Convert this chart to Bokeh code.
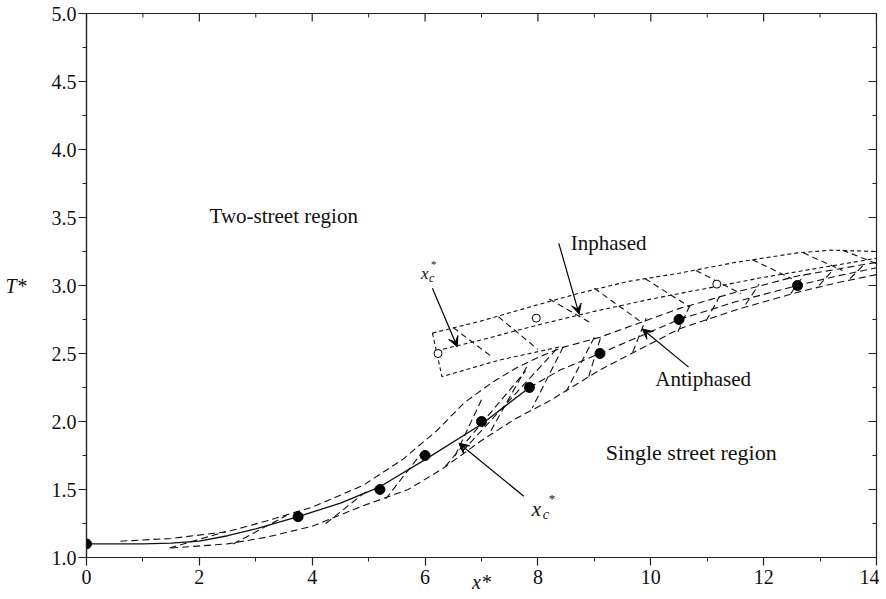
from bokeh.plotting import figure
from bokeh.models import Range1d, LinearAxis, FixedTicker, Label, Arrow, VeeHead
from bokeh.embed import file_html
from bokeh.resources import INLINE

FONT = "Liberation Serif"

# ---------------- data ----------------
x_ticks = [0, 2, 4, 6, 8, 10, 12, 14]
x_minor = [1, 3, 5, 7, 9, 11, 13]
y_ticks = [1.0, 1.5, 2.0, 2.5, 3.0, 3.5, 4.0, 4.5, 5.0]
y_minor = [1.25, 1.75, 2.25, 2.75, 3.25, 3.75, 4.25, 4.75]
y_tick_labels = ["1.0", "1.5", "2.0", "2.5", "3.0", "3.5", "4.0", "4.5", "5.0"]
x_title = "x*"
y_title = "T*"

# filled points (single street, computed onset)
solid_pts_x = [0.0, 3.75, 5.2, 6.0, 7.0, 7.85, 9.1, 10.5, 12.6]
solid_pts_y = [1.10, 1.30, 1.50, 1.75, 2.00, 2.25, 2.50, 2.75, 3.00]
# open points (inphased)
open_pts_x = [6.23, 7.97, 11.17]
open_pts_y = [2.50, 2.76, 3.01]

# solid x_c* curve
curve_x = [0.0, 1.0, 1.5, 2.0, 2.5, 3.0, 3.75, 4.5, 5.2, 6.0, 7.0, 7.85]
curve_y = [1.10, 1.10, 1.105, 1.12, 1.16, 1.21, 1.30, 1.40, 1.52, 1.72, 1.98, 2.25]

# long-dashed tube (single street / antiphased)
up_x = [0.6, 1.5, 2.5, 3.2, 4.0, 4.9, 5.6, 6.2, 6.7, 7.2, 7.6, 8.0, 8.4, 9.1, 10.5, 11.5, 12.6, 13.3, 14.0]
up_y = [1.12, 1.14, 1.19, 1.27, 1.37, 1.53, 1.72, 1.93, 2.14, 2.29, 2.39, 2.47, 2.54, 2.62, 2.83, 2.95, 3.07, 3.12, 3.17]
mid_x = [7.85, 8.4, 9.1, 10.5, 11.5, 12.6, 13.3, 14.0]
mid_y = [2.25, 2.38, 2.50, 2.75, 2.88, 3.00, 3.07, 3.13]
low_x = [1.5, 2.5, 3.2, 4.0, 4.9, 5.7, 6.3, 7.0, 7.6, 8.2, 9.1, 10.5, 11.5, 12.6, 13.3, 14.0]
low_y = [1.07, 1.10, 1.15, 1.23, 1.38, 1.50, 1.65, 1.86, 2.02, 2.15, 2.38, 2.68, 2.82, 2.95, 3.02, 3.08]

# tube cross strokes
tube_x0 = [1.47, 2.6, 4.24, 5.3, 6.36, 6.66, 7.0, 7.8, 8.45, 9.0, 8.9, 9.68, 10.48, 10.98, 11.68, 12.48, 12.98, 13.53]
tube_y0 = [1.07, 1.10, 1.25, 1.43, 1.67, 1.78, 2.16, 2.40, 2.55, 2.62, 2.33, 2.51, 2.66, 2.74, 2.86, 2.94, 3.00, 3.05]
tube_x1 = [2.47, 3.55, 5.0, 6.0, 7.78, 8.37, 6.5, 7.15, 7.9, 8.5, 9.12, 9.92, 10.72, 11.22, 11.92, 12.72, 13.22, 13.77]
tube_y1 = [1.19, 1.31, 1.50, 1.80, 2.37, 2.55, 1.72, 1.92, 2.10, 2.22, 2.63, 2.76, 2.88, 2.92, 3.01, 3.08, 3.11, 3.15]

# short-dashed inphased band
in_top_x = [6.13, 7.0, 7.84, 8.7, 9.6, 10.5, 11.5, 12.6, 13.2, 14.0]
in_top_y = [2.65, 2.74, 2.84, 2.94, 3.03, 3.09, 3.17, 3.24, 3.26, 3.25]
in_mid_x = [6.2, 7.0, 8.0, 9.0, 10.0, 11.0, 12.0, 13.0, 14.0]
in_mid_y = [2.52, 2.60, 2.71, 2.81, 2.90, 2.98, 3.06, 3.13, 3.20]
in_bot_x = [6.13, 6.3, 7.3, 8.4]
in_bot_y = [2.65, 2.33, 2.45, 2.55]
in_x0 = [6.5, 7.3, 8.2, 9.0, 9.9, 10.8, 11.8, 12.7, 13.4]
in_y0 = [2.69, 2.77, 2.90, 2.98, 3.05, 3.11, 3.19, 3.24, 3.26]
in_x1 = [7.2, 8.0, 8.96, 9.8, 10.7, 11.6, 12.5, 13.4, 14.0]
in_y1 = [2.47, 2.53, 2.72, 2.74, 2.84, 2.94, 3.05, 3.11, 3.16]

# annotation arrows (tail -> head)
arr_x0 = [8.37, 6.13, 10.67, 7.75]
arr_y0 = [3.31, 2.98, 2.40, 1.45]
arr_x1 = [8.73, 6.57, 9.85, 6.60]
arr_y1 = [2.79, 2.55, 2.68, 1.84]

# ---------------- figure ----------------
X0, X1, Y0, Y1 = 0, 14, 1, 5
BL, BR, BT, BB = 86, 3, 13, 42
FW, FH = 790, 544
W, H = BL + FW + BR, BT + FH + BB

p = figure(width=W, height=H, x_range=Range1d(X0, X1), y_range=Range1d(Y0, Y1),
           output_backend="svg", toolbar_location=None,
           x_axis_type=None, y_axis_type=None,
           min_border_left=BL, min_border_right=BR, min_border_top=BT, min_border_bottom=BB)
AX_COL = "#222222"
p.outline_line_color = AX_COL
p.outline_line_width = 1.2
p.background_fill_color = "white"
p.border_fill_color = "white"

def make_axis(ticks, minor, standoff):
    ax = LinearAxis(ticker=FixedTicker(ticks=ticks, minor_ticks=minor))
    ax.axis_line_color = AX_COL
    ax.axis_line_width = 1.2
    ax.major_tick_line_color = AX_COL
    ax.minor_tick_line_color = AX_COL
    ax.major_tick_line_width = 1.2
    ax.minor_tick_line_width = 1.0
    ax.major_tick_out, ax.major_tick_in = 8, 0
    ax.minor_tick_out, ax.minor_tick_in = 4, 0
    ax.major_label_text_font = FONT
    ax.major_label_text_font_size = "20px"
    ax.major_label_text_color = "#111111"
    ax.major_label_standoff = standoff
    ax.axis_label_text_font = FONT
    ax.axis_label_text_font_size = "20px"
    ax.axis_label_text_font_style = "italic"
    ax.axis_label_text_color = "#111111"
    return ax

bottom = make_axis(x_ticks, x_minor, 4)
bottom.axis_label = x_title
bottom.axis_label_standoff = -16
left = make_axis(y_ticks, y_minor, 2)
left.major_label_overrides = {t: s for t, s in zip(y_ticks, y_tick_labels)}
left.axis_label = y_title
left.axis_label_standoff = 22
try:
    left.axis_label_orientation = "horizontal"
except Exception:
    pass
p.add_layout(bottom, "below")
p.add_layout(left, "left")

# inward mirror ticks on top and right edges (lengths in pixels -> data units)
dx = (X1 - X0) / FW
dy = (Y1 - Y0) / FH
p.segment(x_ticks, [Y1] * len(x_ticks), x_ticks, [Y1 - 8 * dy] * len(x_ticks), line_color=AX_COL, line_width=1.2)
p.segment(x_minor, [Y1] * len(x_minor), x_minor, [Y1 - 4 * dy] * len(x_minor), line_color=AX_COL, line_width=1.0)
p.segment([X1] * len(y_ticks), y_ticks, [X1 - 8 * dx] * len(y_ticks), y_ticks, line_color=AX_COL, line_width=1.2)
p.segment([X1] * len(y_minor), y_minor, [X1 - 4 * dx] * len(y_minor), y_minor, line_color=AX_COL, line_width=1.0)

LC = "#111111"
# long-dashed tube
for xs, ys in [(up_x, up_y), (mid_x, mid_y), (low_x, low_y)]:
    p.line(xs, ys, line_color=LC, line_width=1.1, line_dash="7 4")
p.segment(tube_x0, tube_y0, tube_x1, tube_y1, line_color=LC, line_width=1.1, line_dash="7 4")

# short-dashed inphased band
for xs, ys in [(in_top_x, in_top_y), (in_mid_x, in_mid_y), (in_bot_x, in_bot_y)]:
    p.line(xs, ys, line_color=LC, line_width=1.1, line_dash="4 3")
p.segment(in_x0, in_y0, in_x1, in_y1, line_color=LC, line_width=1.1, line_dash="6 4")

# solid curve
p.line(curve_x, curve_y, line_color=LC, line_width=1.3)

# points
p.scatter(solid_pts_x, solid_pts_y, size=10, marker="circle", fill_color="black", line_color="black")
p.scatter(open_pts_x, open_pts_y, size=8, marker="circle", fill_color="white", line_color="black", line_width=1)

# arrows
for xa, ya, xb, yb in zip(arr_x0, arr_y0, arr_x1, arr_y1):
    p.add_layout(Arrow(end=VeeHead(size=10, fill_color="black", line_color="black", line_width=1),
                       x_start=xa, y_start=ya, x_end=xb, y_end=yb,
                       line_color="black", line_width=1.2))

# texts
def lab(x, y, t, size="21px", style="normal", align="left", base="middle", xo=0, yo=0):
    p.add_layout(Label(x=x, y=y, text=t, text_font=FONT, text_font_size=size,
                       text_font_style=style, text_align=align, text_baseline=base,
                       text_color="#111111", x_offset=xo, y_offset=yo))

lab(2.18, 3.51, "Two-street region")
lab(9.2, 1.77, "Single street region", size="22px")
lab(8.58, 3.31, "Inphased")
lab(10.08, 2.31, "Antiphased")

# x_c* labels
lab(7.89, 1.36, "x", size="21px", style="italic")
lab(7.89, 1.36, "c", size="14px", style="italic", xo=11, yo=-6)
lab(7.89, 1.36, "*", size="13px", xo=17, yo=10)
lab(5.93, 3.09, "x", size="17px", style="italic")
lab(5.93, 3.09, "c", size="12px", style="italic", xo=8, yo=-5)
lab(5.93, 3.09, "*", size="11px", xo=10, yo=9)

open("out.html", "w").write(file_html(p, INLINE))
